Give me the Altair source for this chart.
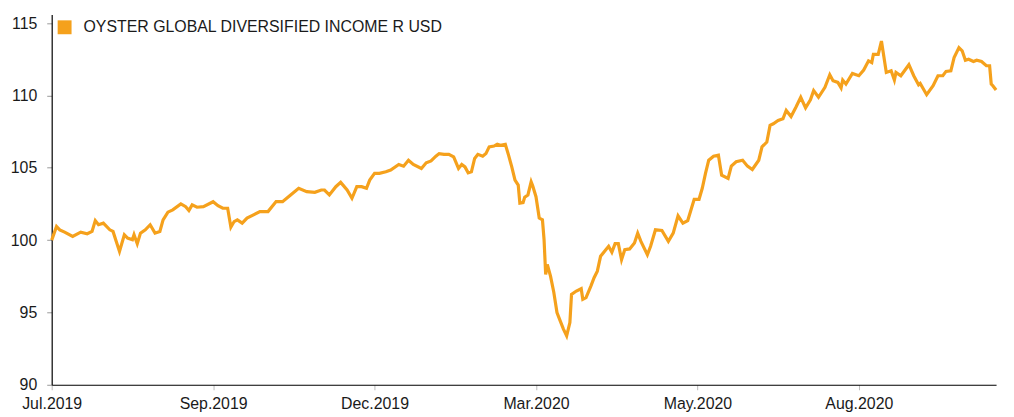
import altair as alt
import pandas as pd

SERIES = "OYSTER GLOBAL DIVERSIFIED INCOME R USD"
LINE_COLOR = "#F5A11C"

# trading-day index (100 units between tick labels) and NAV values
DAY = [
    0, 3, 5, 8, 13, 18, 22, 25, 27, 29, 32, 36, 38, 40, 42, 45, 47, 50, 51, 53,
    55, 58, 61, 64, 67, 69, 72, 75, 80, 83, 85, 87, 90, 94, 100, 103, 106, 109, 111, 113,
    115, 118, 121, 125, 129, 134, 139, 143, 148, 153, 158, 163, 167, 169, 172, 176, 179, 183, 186, 189,
    192, 195, 197, 200, 203, 207, 210, 215, 218, 221, 224, 229, 232, 235, 238, 240, 243, 246, 249, 252,
    254, 256, 258, 260, 262, 264, 267, 269, 271, 274, 276, 278, 281, 283, 285, 287, 289, 290, 292, 293,
    295, 297, 298, 300, 302, 304, 305, 306, 307, 309, 311, 313, 315, 317, 319, 321, 322, 325, 328, 329,
    331, 334, 336, 338, 340, 343, 345, 347, 349, 351, 353, 355, 358, 361, 363, 365, 369, 371, 374, 378,
    382, 385, 388, 391, 394, 398, 401, 403, 405, 407, 410, 413, 415, 419, 421, 424, 428, 431, 434, 438,
    440, 443, 445, 447, 450, 453, 455, 458, 461, 464, 467, 470, 472, 475, 479, 482, 484, 487, 489, 490,
    492, 496, 500, 503, 506, 508, 509, 512, 514, 517, 520, 522, 523, 526, 531, 534, 537, 538, 542, 546,
    549, 552, 554, 557, 559, 562, 564, 566, 568, 571, 573, 576, 579, 581, 582, 583, 585,
]
NAV = [
    100.00, 100.94, 100.71, 100.55, 100.25, 100.55, 100.44, 100.60, 101.35, 101.06,
    101.17, 100.71, 100.60, 99.91, 99.22, 100.37, 100.14, 100.03, 100.37, 99.75,
    100.48, 100.71, 101.06, 100.48, 100.60, 101.40, 101.93, 102.09, 102.50, 102.31,
    102.04, 102.43, 102.27, 102.31, 102.65, 102.38, 102.20, 102.20, 100.89, 101.28,
    101.40, 101.17, 101.52, 101.74, 101.97, 101.97, 102.66, 102.66, 103.12, 103.58,
    103.35, 103.30, 103.46, 103.46, 103.12, 103.69, 103.99, 103.46, 102.89, 103.69,
    103.69, 103.58, 104.15, 104.61, 104.61, 104.72, 104.84, 105.23, 105.11, 105.52,
    105.23, 104.95, 105.34, 105.47, 105.80, 105.98, 105.93, 105.93, 105.75, 104.95,
    105.23, 105.06, 104.65, 104.72, 105.64, 105.93, 105.80, 105.98, 106.44, 106.50,
    106.62, 106.55, 106.62, 105.87, 105.06, 104.15, 103.80, 102.55, 102.59, 102.96,
    103.12, 104.03, 103.74, 103.00, 101.52, 101.40, 100.03, 97.62, 98.31, 97.51,
    96.41, 94.99, 94.42, 93.85, 93.39, 94.30, 96.25, 96.48, 96.64, 95.91,
    96.02, 96.82, 97.40, 97.85, 98.88, 99.29, 99.57, 99.16, 99.75, 99.75,
    98.65, 99.34, 99.39, 99.80, 100.48, 99.91, 98.99, 99.57, 100.71, 100.67,
    99.91, 100.48, 101.68, 101.17, 101.35, 102.82, 102.82, 103.58, 104.61, 105.52,
    105.80, 105.87, 104.49, 104.26, 105.11, 105.41, 105.52, 105.11, 104.88, 105.52,
    106.44, 106.78, 107.93, 108.04, 108.27, 108.38, 108.96, 108.54, 109.18, 109.87,
    109.14, 109.69, 110.33, 109.87, 110.56, 111.43, 111.02, 110.90, 110.52, 111.06,
    110.79, 111.52, 111.36, 111.75, 112.39, 112.27, 112.84, 112.84, 113.76, 111.59,
    111.70, 111.06, 111.59, 111.36, 112.12, 111.36, 110.74, 110.83, 110.05, 110.67,
    111.36, 111.36, 111.66, 111.70, 112.61, 113.30, 113.08, 112.43, 112.50, 112.34,
    112.43, 112.34, 112.05, 112.05, 110.79, 110.67, 110.37,
]

TICK_POS = [0, 100, 200, 300, 400, 500]
TICK_LABELS = ["Jul.2019", "Sep.2019", "Dec.2019", "Mar.2020", "May.2020", "Aug.2020"]
Y_TICKS = [90, 95, 100, 105, 110, 115]

df = pd.DataFrame({"day": DAY, "nav": NAV, "series": SERIES})

label_expr = "[" + ",".join("'%s'" % t for t in TICK_LABELS) + "][round(datum.value/100)]"

FONT = "Liberation Sans"
TXT = "#1a1a1a"

chart = (
    alt.Chart(df)
    .mark_line(strokeWidth=3.2, interpolate="linear")
    .encode(
        x=alt.X(
            "day:Q",
            scale=alt.Scale(domain=[0, 585], nice=False, zero=False),
            axis=alt.Axis(
                values=TICK_POS,
                labelExpr=label_expr,
                title=None,
                grid=False,
                domainColor="#000000",
                domainWidth=1.2,
                tickColor="#bbbbbb",
                tickSize=5,
                labelPadding=6,
                labelFontSize=16,
                labelFont=FONT,
                labelColor=TXT,
                labelFlush=False,
            ),
        ),
        y=alt.Y(
            "nav:Q",
            scale=alt.Scale(domain=[90, 115.6], nice=False, zero=False),
            axis=alt.Axis(
                values=Y_TICKS,
                title=None,
                grid=False,
                domainColor="#000000",
                domainWidth=1.2,
                tickColor="#999999",
                tickSize=5,
                labelPadding=10,
                labelFontSize=16,
                labelFont=FONT,
                labelColor=TXT,
            ),
        ),
        color=alt.Color(
            "series:N",
            scale=alt.Scale(domain=[SERIES], range=[LINE_COLOR]),
            legend=alt.Legend(
                title=None,
                orient="none",
                legendX=5,
                legendY=5,
                padding=0,
                symbolType="square",
                symbolSize=196,
                symbolFillColor=LINE_COLOR,
                symbolStrokeWidth=0,
                labelFontSize=16,
                labelFont=FONT,
                labelColor=TXT,
                labelOffset=11,
                labelLimit=800,
            ),
        ),
    )
    .properties(
        width=951,
        height=373,
        autosize=alt.AutoSizeParams(type="none"),
        padding={"left": 44, "top": 5, "right": 10, "bottom": 28},
    )
    .configure_view(stroke=None)
)

chart.save("out.html", embed_options={"renderer": "svg", "actions": False})
